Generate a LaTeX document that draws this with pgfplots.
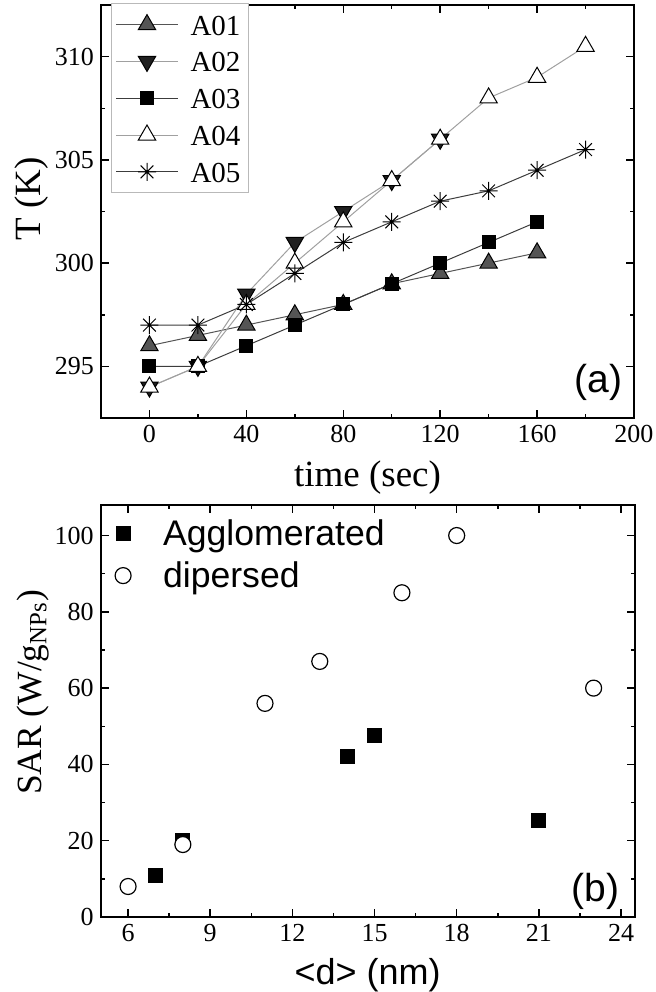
\documentclass[border=0pt]{standalone}
\usepackage{fontspec}
\setmainfont{Liberation Serif}
\setsansfont{Liberation Sans}
\usepackage{pgfplots}
\pgfplotsset{compat=1.18}

\definecolor{ldark}{HTML}{3C3C3C}
\definecolor{llight}{HTML}{A0A0A0}
\definecolor{fgray}{HTML}{555555}
\definecolor{fdark}{HTML}{202020}

% 8-spoke asterisk with a dot in the middle
\pgfdeclareplotmark{star8}{%
  \pgfpathmoveto{\pgfqpoint{-\pgfplotmarksize}{0pt}}\pgfpathlineto{\pgfqpoint{\pgfplotmarksize}{0pt}}%
  \pgfpathmoveto{\pgfqpoint{0pt}{-\pgfplotmarksize}}\pgfpathlineto{\pgfqpoint{0pt}{\pgfplotmarksize}}%
  \pgfpathmoveto{\pgfqpoint{-0.707\pgfplotmarksize}{-0.707\pgfplotmarksize}}\pgfpathlineto{\pgfqpoint{0.707\pgfplotmarksize}{0.707\pgfplotmarksize}}%
  \pgfpathmoveto{\pgfqpoint{-0.707\pgfplotmarksize}{0.707\pgfplotmarksize}}\pgfpathlineto{\pgfqpoint{0.707\pgfplotmarksize}{-0.707\pgfplotmarksize}}%
  \pgfusepathqstroke
  \pgfpathcircle{\pgfpointorigin}{0.8pt}\pgfusepathqfill}

\newcommand{\fs}[1]{\fontsize{#1}{#1}\selectfont}

\pgfplotsset{
  panel/.style={
    scale only axis,
    tick align=inside,
    major tick length=4pt, minor tick length=2pt,
    axis line style={line width=1pt},
    every tick/.style={line width=0.75pt, black},
    /pgf/number format/assume math mode=true,
    tick label style={font=\fs{13}},
    clip=false,
  },
}

\begin{document}
\begin{tikzpicture}
\path[use as bounding box] (0,0) rectangle (327.5pt,-496pt);

% (a) temperature vs time
\begin{axis}[panel,
  at={(50.5pt,-209pt)}, anchor=south west,
  width=266.5pt, height=206.5pt,
  xmin=-20, xmax=200, ymin=292.5, ymax=312.5,
  xtick={0,40,...,200}, minor xtick={20,60,...,180},
  ytick={295,300,305,310}, minor ytick={297.5,302.5,307.5},
  xlabel={time (sec)}, ylabel={T (K)},
  xlabel style={font=\fs{18.5}, at={(axis description cs:0.5,0)}, anchor=center, yshift=-30pt},
  ylabel style={font=\fs{18.5}, at={(axis description cs:0,0.53)}, anchor=center, yshift=34.5pt},
  legend style={at={(rel axis cs:0,1)}, anchor=north west, xshift=5pt, yshift=1pt,
    draw=gray!55, line width=0.5pt, fill=white, font=\fs{14.5},
    inner xsep=2pt, inner ysep=1.8pt, row sep=0.9pt,
    nodes={text height=12pt},
    /tikz/every odd column/.append style={column sep=4pt}},
  legend cell align=left,
  legend image code/.code={\draw[mark repeat=2,mark phase=2,#1] plot coordinates {(0pt,0pt)(15.5pt,0pt)(31pt,0pt)};},
]
\addplot[color=fgray, line width=0.5pt, mark=triangle*, mark size=5pt,
  mark options={solid, fill=fgray, draw=black, line width=0.5pt}]
  coordinates {(0,296) (20,296.5) (40,297) (60,297.5) (80,298) (100,299) (120,299.5) (140,300) (160,300.5)};
\addlegendentry{A01}
\addplot[color=llight, line width=0.5pt, mark=triangle*, mark size=5pt,
  mark options={solid, rotate=180, fill=fdark, draw=black, line width=0.5pt}]
  coordinates {(0,294) (20,295) (40,298.5) (60,301) (80,302.5) (100,304) (120,306)};
\addlegendentry{A02}
\addplot[color=ldark, line width=0.5pt, mark=square*, mark size=3.25pt,
  mark options={solid, fill=black, draw=black, line width=0.5pt}]
  coordinates {(0,295) (20,295) (40,296) (60,297) (80,298) (100,299) (120,300) (140,301) (160,302)};
\addlegendentry{A03}
\addplot[color=llight, line width=0.5pt, mark=triangle*, mark size=5pt,
  mark options={solid, fill=white, draw=black, line width=0.5pt}]
  coordinates {(0,294) (20,295) (40,298) (60,300) (80,302) (100,304) (120,306) (140,308) (160,309) (180,310.5)};
\addlegendentry{A04}
\addplot[color=ldark, line width=0.5pt, mark=star8, mark size=4.5pt,
  mark options={solid, draw=black, fill=black, line width=0.5pt}]
  coordinates {(0,297) (20,297) (40,298) (60,299.5) (80,301) (100,302) (120,303) (140,303.5) (160,304.5) (180,305.5)};
\addlegendentry{A05}
\node[font=\sffamily\fs{19.5}] at (rel axis cs:0.934,0.085) {(a)};
\end{axis}

% (b) SAR vs particle size
\begin{axis}[panel,
  at={(50.35pt,-458.5pt)}, anchor=south west,
  width=267pt, height=206pt,
  xmin=5, xmax=24.5, ymin=0, ymax=108,
  xtick={6,9,...,24}, minor xtick={7.5,10.5,...,22.5},
  ytick={0,20,...,100}, minor ytick={10,30,...,90},
  xlabel={<d> (nm)}, ylabel={SAR (W/g\textsubscript{NPs})},
  xlabel style={font=\sffamily\fs{18}, at={(axis description cs:0.5,0)}, anchor=center, yshift=-29pt},
  ylabel style={font=\fs{17.7}, at={(axis description cs:0,0.545)}, anchor=center, yshift=34pt},
  legend style={at={(rel axis cs:0,1)}, anchor=north west, xshift=7pt, yshift=-5pt,
    draw=none, fill=none, font=\sffamily\fs{17.8}, inner sep=0pt, row sep=2.5pt,
    /tikz/every odd column/.append style={column sep=14pt}},
  legend cell align=left,
  legend image code/.code={\draw[#1] plot coordinates {(0pt,0pt)};},
]
\addplot[only marks, mark=square*, mark size=3.5pt, mark options={fill=black, draw=black}]
  coordinates {(7,11) (8,20) (14,42) (15,47.5) (21,25.2)};
\addlegendentry{Agglomerated}
\addplot[only marks, mark=*, mark size=4pt, mark options={fill=white, draw=black, line width=0.6pt}]
  coordinates {(6,8) (8,19) (11,56) (13,67) (16,85) (18,100) (23,60)};
\addlegendentry{dipersed}
\node[font=\sffamily\fs{19.5}] at (rel axis cs:0.927,0.062) {(b)};
\end{axis}
\end{tikzpicture}
\end{document}
